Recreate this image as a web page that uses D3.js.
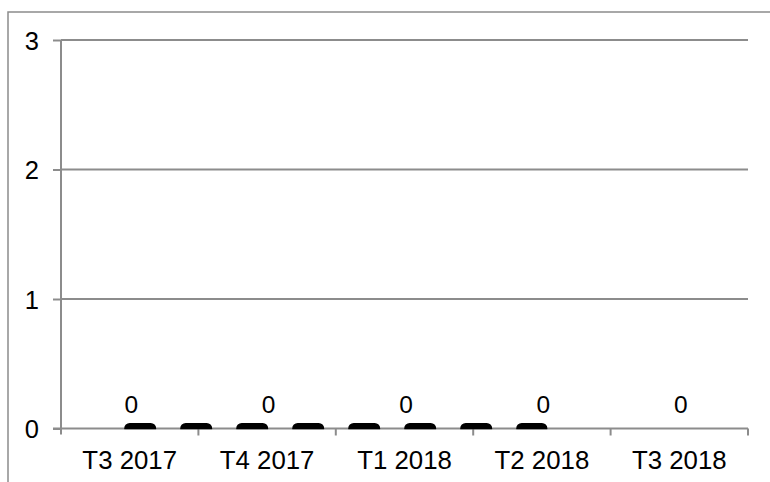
<!DOCTYPE html>
<html><head><meta charset="utf-8">
<script src="https://cdn.jsdelivr.net/npm/d3@7"></script>
<style>body{margin:0;background:#fff}svg{display:block}text{font-family:"Liberation Sans",Arial,sans-serif;fill:#000}</style>
</head><body>
<svg id="c" width="770" height="482"></svg>
<script>
const categories = ["T3 2017","T4 2017","T1 2018","T2 2018","T3 2018"];
const labelValues = [0,0,0,0,0];
const lineValues = [0,0,0,0,null];
const yTicks = [0,1,2,3];

const svg = d3.select("#c");
const m = {l:61, r:748, t:40, b:428.5};
const x = d3.scaleBand().domain(categories).range([m.l, m.r]).paddingInner(0).paddingOuter(0);
const y = d3.scaleLinear().domain([0,3]).range([m.b, m.t]);
const grey = "#8c8c8c";

// chart border (extends beyond the window)
svg.append("rect").attr("x",8).attr("y",12).attr("width",820).attr("height",520)
  .attr("fill","none").attr("stroke",grey).attr("stroke-width",1.5);

// gridlines
svg.append("g").selectAll("line").data(yTicks.filter(d=>d>0)).join("line")
  .attr("x1",m.l).attr("x2",m.r).attr("y1",d=>y(d)).attr("y2",d=>y(d))
  .attr("stroke",grey).attr("stroke-width",2);

// y axis
const ya = svg.append("g").attr("transform",`translate(${m.l},0)`)
  .call(d3.axisLeft(y).tickValues(yTicks).tickSize(8).tickPadding(14).tickFormat(d3.format("d")));
ya.select(".domain").remove();
ya.selectAll(".tick line").attr("stroke",grey).attr("stroke-width",2);
ya.selectAll(".tick text").attr("font-size",25.5).attr("font-family","Liberation Sans, Arial, sans-serif").attr("fill","#000").attr("dy","0.36em").attr("x",-22);
svg.append("line").attr("x1",m.l).attr("x2",m.l).attr("y1",m.t).attr("y2",m.b+6)
  .attr("stroke",grey).attr("stroke-width",2);

// x axis
const xa = svg.append("g").attr("transform",`translate(0,${m.b})`)
  .call(d3.axisBottom(x).tickSize(0).tickPadding(0));
xa.select(".domain").remove();
xa.selectAll(".tick text").attr("font-size",25.8).attr("font-family","Liberation Sans, Arial, sans-serif").attr("fill","#000").attr("dy",0).attr("y",40.8);
svg.append("line").attr("x1",m.l-8).attr("x2",m.r).attr("y1",m.b).attr("y2",m.b)
  .attr("stroke",grey).attr("stroke-width",2);
const bounds = categories.map(c=>x(c)+x.bandwidth());
svg.append("g").selectAll("line").data(bounds).join("line")
  .attr("x1",d=>d).attr("x2",d=>d).attr("y1",m.b).attr("y2",m.b+7)
  .attr("stroke",grey).attr("stroke-width",2);

// line series (clipped to plot area)
svg.append("clipPath").attr("id","pc").append("rect")
  .attr("x",m.l-20).attr("y",m.t).attr("width",m.r-m.l+40).attr("height",m.b-m.t+0.8);
const line = d3.line().defined(d=>d.v!==null).x(d=>x(d.c)+x.bandwidth()/2).y(d=>y(d.v));
svg.append("path").datum(categories.map((c,i)=>({c,v:lineValues[i]})))
  .attr("clip-path","url(#pc)")
  .attr("d",line).attr("fill","none").attr("stroke","#000").attr("stroke-width",11)
  .attr("stroke-linecap","round").attr("stroke-dasharray","21,35");

// data labels
svg.append("g").selectAll("text").data(categories.map((c,i)=>({c,v:labelValues[i]}))).join("text")
  .attr("x",d=>x(d.c)+x.bandwidth()/2+1.5).attr("y",d=>y(d.v)-15.5)
  .attr("text-anchor","middle").attr("font-size",24.5).text(d=>d.v);
</script>
</body></html>
